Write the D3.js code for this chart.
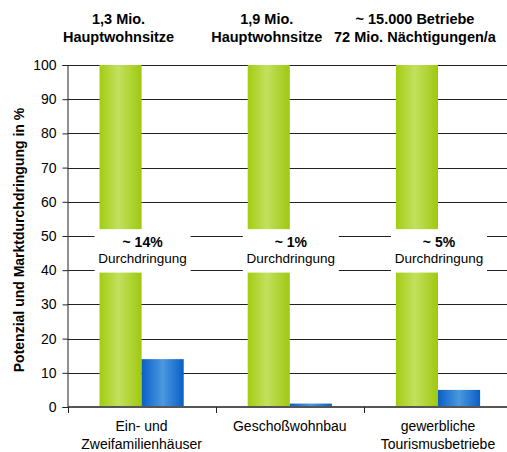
<!DOCTYPE html>
<html>
<head>
<meta charset="utf-8">
<script src="https://cdn.jsdelivr.net/npm/d3@7"></script>
<style>
  body { margin: 0; background: #fff; }
  text { font-family: "Liberation Sans", Arial, sans-serif; fill: #000; }
</style>
</head>
<body>
<svg width="507" height="452"></svg>
<script>
// chart data
const categories = ['Ein- und Zweifamilienhäuser', 'Geschoßwohnbau', 'gewerbliche Tourismusbetriebe'];
const categoryLines = [['Ein- und', 'Zweifamilienhäuser'], ['Geschoßwohnbau'], ['gewerbliche', 'Tourismusbetriebe']];
const potential = [100, 100, 100];
const penetration = [14, 1, 5];
const topLabels = [['1,3 Mio.', 'Hauptwohnsitze'], ['1,9 Mio.', 'Hauptwohnsitze'], ['~ 15.000 Betriebe', '72 Mio. Nächtigungen/a']];
const gapLabels = ['~ 14%', '~ 1%', '~ 5%'];
const breakRange = [39.3, 52];
const yTicks = [0, 10, 20, 30, 40, 50, 60, 70, 80, 90, 100];

const svg = d3.select('svg');
const width = +svg.attr('width');
const margin = { top: 65, left: 67.5, bottom: 45 };
const plotBottom = 407;

const x = d3.scaleBand().domain(categories).range([margin.left, margin.left + 3 * 148.2]);
const xSub = d3.scaleBand().domain(['potential', 'penetration'])
  .range([0, x.bandwidth()]).paddingInner(0).paddingOuter(0.76);
const y = d3.scaleLinear().domain([0, 100]).range([plotBottom, margin.top]);

// gradients
const defs = svg.append('defs');
function grad(id, stops) {
  const g = defs.append('linearGradient').attr('id', id)
    .attr('x1', '0%').attr('x2', '100%').attr('y1', '0%').attr('y2', '0%');
  stops.forEach(s => g.append('stop').attr('offset', s[0]).attr('stop-color', s[1]));
}
grad('green', [['0%', '#a2cd12'], ['45%', '#c3e05e'], ['100%', '#9ec90f']]);
grad('blue', [['0%', '#0a5fc6'], ['50%', '#4b98df'], ['100%', '#0a5fc6']]);

// gridlines
svg.append('g')
  .selectAll('line')
  .data(yTicks.slice(1))
  .enter()
  .append('line')
  .attr('x1', margin.left).attr('x2', width)
  .attr('y1', d => Math.round(y(d)) + 0.5).attr('y2', d => Math.round(y(d)) + 0.5)
  .attr('stroke', '#222').attr('stroke-width', 1);

// bars
const groups = svg.append('g')
  .selectAll('g')
  .data(categories)
  .enter()
  .append('g')
  .attr('transform', d => `translate(${x(d)},0)`);

groups.append('rect')
  .attr('x', xSub('potential'))
  .attr('width', xSub.bandwidth())
  .attr('y', (d, i) => y(potential[i]))
  .attr('height', (d, i) => plotBottom - y(potential[i]))
  .attr('fill', 'url(#green)');

groups.append('rect')
  .attr('x', xSub('penetration'))
  .attr('width', xSub.bandwidth())
  .attr('y', (d, i) => y(penetration[i]))
  .attr('height', (d, i) => plotBottom - y(penetration[i]))
  .attr('fill', 'url(#blue)');

// white label boxes breaking the green bars
const bc = x.bandwidth() / 2;
groups.append('rect')
  .attr('x', bc - 47)
  .attr('width', 96)
  .attr('y', y(breakRange[1]))
  .attr('height', y(breakRange[0]) - y(breakRange[1]))
  .attr('fill', '#fff');

groups.append('text')
  .attr('x', bc + 1)
  .attr('y', 247)
  .attr('text-anchor', 'middle')
  .style('font-size', '14px')
  .style('font-weight', 'bold')
  .text((d, i) => gapLabels[i]);

groups.append('text')
  .attr('x', bc + 1)
  .attr('y', 263)
  .attr('text-anchor', 'middle')
  .style('font-size', '13.5px')
  .text('Durchdringung');

// top labels, centred over the green bars
groups.each(function (d, i) {
  const g = d3.select(this);
  topLabels[i].forEach((t, j) => {
    g.append('text')
      .attr('x', xSub('potential') + xSub.bandwidth() / 2 - 2)
      .attr('y', 24 + j * 18)
      .attr('text-anchor', 'middle')
      .style('font-size', '14.5px')
      .style('font-weight', 'bold')
      .text(t);
  });
  categoryLines[i].forEach((t, j) => {
    g.append('text')
      .attr('x', bc)
      .attr('y', 431 + j * 18)
      .attr('text-anchor', 'middle')
      .style('font-size', '14px')
      .text(t);
  });
});

// y axis
const yAxis = svg.append('g')
  .attr('transform', `translate(${margin.left},0)`)
  .call(d3.axisLeft(y).tickValues(yTicks).tickSize(5).tickPadding(6));
yAxis.select('.domain').attr('stroke', '#222');
yAxis.selectAll('.tick line').attr('stroke', '#222');
yAxis.selectAll('.tick text')
  .style('font-size', '14px')
  .style('font-family', '"Liberation Sans", Arial, sans-serif');

// x axis line and category ticks
svg.append('line')
  .attr('x1', margin.left).attr('x2', width)
  .attr('y1', plotBottom).attr('y2', plotBottom)
  .attr('stroke', '#555').attr('stroke-width', 2);
svg.append('g')
  .selectAll('line')
  .data(categories)
  .enter()
  .append('line')
  .attr('x1', d => Math.round(x(d)) + 0.5).attr('x2', d => Math.round(x(d)) + 0.5)
  .attr('y1', plotBottom).attr('y2', plotBottom + 6)
  .attr('stroke', '#222');

// y axis title
svg.append('text')
  .attr('transform', `translate(24,${(margin.top + plotBottom) / 2 + 4}) rotate(-90)`)
  .attr('text-anchor', 'middle')
  .style('font-size', '14px')
  .style('font-weight', 'bold')
  .text('Potenzial und Marktdurchdringung in %');
</script>
</body>
</html>
